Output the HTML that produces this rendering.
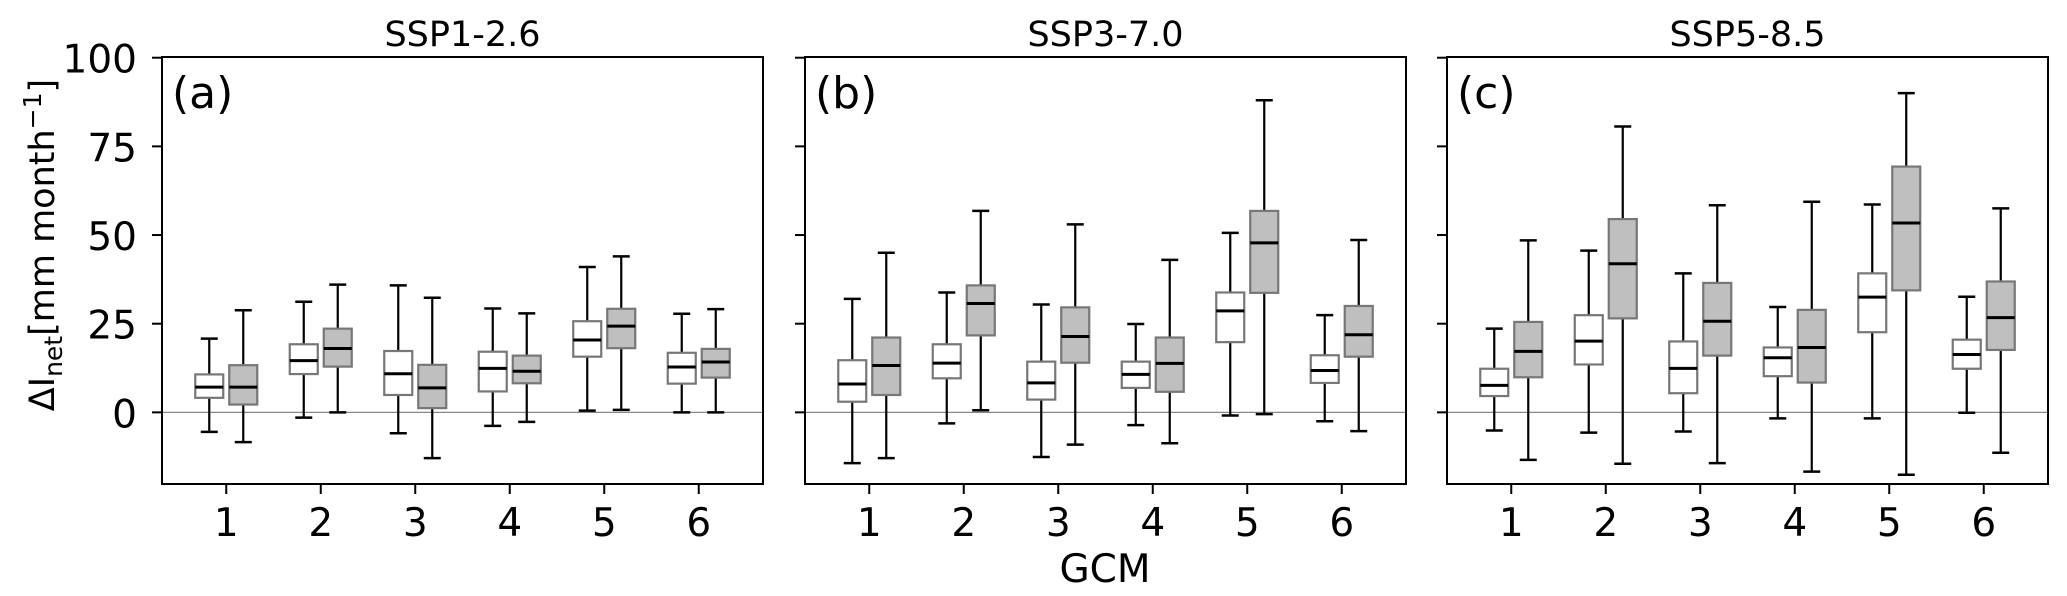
<!DOCTYPE html>
<html><head><meta charset="utf-8">
<style>
html,body{margin:0;padding:0;background:#fff;}
svg{display:block;font-family:"DejaVu Sans","Liberation Sans",sans-serif;}
</style></head>
<body>
<svg id="chart" width="2067" height="596" viewBox="0 0 2067 596" xmlns="http://www.w3.org/2000/svg"></svg>
<script>
const categories = [1,2,3,4,5,6];
const panelTitles = ["SSP1-2.6","SSP3-7.0","SSP5-8.5"];
const panelLetters = ["(a)","(b)","(c)"];
const yTicks = [0,25,50,75,100];
// each box: [low whisker, q1, median, q3, high whisker]
const ssp126White = [[-5.5,4.1,7.1,10.7,20.8],[-1.5,10.8,14.6,19.2,31.2],[-5.9,4.9,10.9,17.3,35.8],[-3.8,5.9,12.4,17.1,29.3],[0.5,15.7,20.4,25.7,41],[0,8.1,12.8,16.8,27.8]];
const ssp126Gray = [[-8.4,2.2,7.1,13.3,28.8],[0,12.9,18,23.6,36],[-12.9,1.2,6.9,13.4,32.3],[-2.7,8.2,11.6,16,27.9],[0.7,18.1,24.3,29.2,44],[0,9.8,14.2,17.9,29.1]];
const ssp370White = [[-14.3,3,8,14.7,32],[-3.1,9.6,13.9,19.2,33.8],[-12.6,3.6,8.3,14.3,30.4],[-3.6,6.9,10.7,14.3,24.9],[-0.9,19.8,28.6,33.8,50.6],[-2.5,8.3,11.8,16.1,27.4]];
const ssp370Gray = [[-12.9,4.9,13.2,21.1,45],[0.6,21.7,30.7,35.8,56.8],[-9.1,14,21.4,29.6,53],[-8.7,5.8,13.8,21.1,43],[-0.5,33.7,47.8,56.8,88],[-5.3,15.7,21.9,30,48.6]];
const ssp585White = [[-5.1,4.6,7.6,12.3,23.6],[-5.7,13.5,20.1,27.4,45.6],[-5.4,5.4,12.4,20,39.2],[-1.7,10.2,15.4,18.3,29.7],[-1.7,22.6,32.5,39.2,58.6],[-0.1,12.3,16.3,20.5,32.6]];
const ssp585Gray = [[-13.4,9.9,17.2,25.5,48.5],[-14.5,26.5,41.9,54.5,80.6],[-14.3,16,25.7,36.5,58.4],[-16.7,8.4,18.3,28.9,59.4],[-17.6,34.4,53.4,69.3,90],[-11.4,17.6,26.7,36.9,57.5]];

const whiteSeries = [ssp126White, ssp370White, ssp585White];
const graySeries = [ssp126Gray, ssp370Gray, ssp585Gray];

const NS = "http://www.w3.org/2000/svg";
const svg = document.getElementById('chart');
const panelLeft = [162, 805, 1447];
const panelW = 601, plotTop = 57, plotBottom = 484;
const yMin = -20.2, yMax = 100.2;
function yScale(v){ return plotBottom - (v - yMin) / (yMax - yMin) * (plotBottom - plotTop); }
function xScale(p, c){ return panelLeft[p] + (c - 0.32) / 6.36 * panelW; }
function el(tag, attrs, parent){
  const e = document.createElementNS(NS, tag);
  for (const k in attrs) e.setAttribute(k, attrs[k]);
  (parent || svg).appendChild(e);
  return e;
}

for (let p = 0; p < 3; p++){
  const g = el('g', {});
  
  
  const t = el('text', {x: panelLeft[p] + panelW/2, y: 46, 'font-size': 35, 'text-anchor': 'middle'}, g);
  t.textContent = panelTitles[p];
  
  
  const l = el('text', {x: panelLeft[p] + 10, y: 108, 'font-size': 44}, g);
  l.textContent = panelLetters[p];
  
  
  const z = el('line', {x1: panelLeft[p], x2: panelLeft[p] + panelW, y1: yScale(0), y2: yScale(0), stroke: '#888', 'stroke-width': 1.3}, g);
  
  
  for (const v of yTicks){
    const tk = el('line', {x1: panelLeft[p] - 10, x2: panelLeft[p], y1: yScale(v), y2: yScale(v), stroke: '#000', 'stroke-width': 2}, g);
    
    
    if (p === 0){
      const tl = el('text', {x: 137, y: yScale(v) + 15, 'font-size': 39, 'text-anchor': 'end'}, g);
      tl.textContent = v;
      
      
    }
  }
  for (const c of categories){
    const x = xScale(p, c);
    const tk = el('line', {x1: x, x2: x, y1: plotBottom, y2: plotBottom + 10, stroke: '#000', 'stroke-width': 2}, g);
    
    
    const tl = el('text', {x: x, y: 536, 'font-size': 39, 'text-anchor': 'middle'}, g);
    tl.textContent = c;
    
    
  }
  const sets = [[whiteSeries[p], '#ffffff', -17, 'white'], [graySeries[p], '#bfbfbf', 17, 'gray']];
  for (const [data, fill, off, nm] of sets){
    data.forEach((b, i) => {
      const cx = xScale(p, categories[i]) + off;
      const bw = 28, cw = 17;
      const bg = el('g', {}, g);
      
      
      el('line', {x1: cx, x2: cx, y1: yScale(b[0]), y2: yScale(b[1]), stroke: '#000', 'stroke-width': 2.2}, bg);
      el('line', {x1: cx, x2: cx, y1: yScale(b[3]), y2: yScale(b[4]), stroke: '#000', 'stroke-width': 2.2}, bg);
      el('line', {x1: cx - cw/2, x2: cx + cw/2, y1: yScale(b[0]), y2: yScale(b[0]), stroke: '#000', 'stroke-width': 2.5}, bg);
      el('line', {x1: cx - cw/2, x2: cx + cw/2, y1: yScale(b[4]), y2: yScale(b[4]), stroke: '#000', 'stroke-width': 2.5}, bg);
      el('rect', {x: cx - bw/2, y: yScale(b[3]), width: bw, height: yScale(b[1]) - yScale(b[3]), fill: fill, stroke: '#777', 'stroke-width': 2.2}, bg);
      el('line', {x1: cx - bw/2, x2: cx + bw/2, y1: yScale(b[2]), y2: yScale(b[2]), stroke: '#000', 'stroke-width': 3}, bg);
    });
  }
  const f = el('rect', {x: panelLeft[p], y: plotTop, width: panelW, height: plotBottom - plotTop, fill: 'none', stroke: '#000', 'stroke-width': 2}, g);
  
  
}
const xt = el('text', {x: 1105, y: 582, 'font-size': 39, 'text-anchor': 'middle'});
xt.textContent = 'GCM';


const yt = el('text', {x: 0, y: 0, 'font-size': 35, 'text-anchor': 'middle', transform: 'translate(54,245) rotate(-90)'});


yt.innerHTML = 'ΔI<tspan font-size="25" dy="8">net</tspan><tspan dy="-8">[mm month</tspan><tspan font-size="25" dy="-13">−1</tspan><tspan dy="13">]</tspan>';
</script>
</body></html>
